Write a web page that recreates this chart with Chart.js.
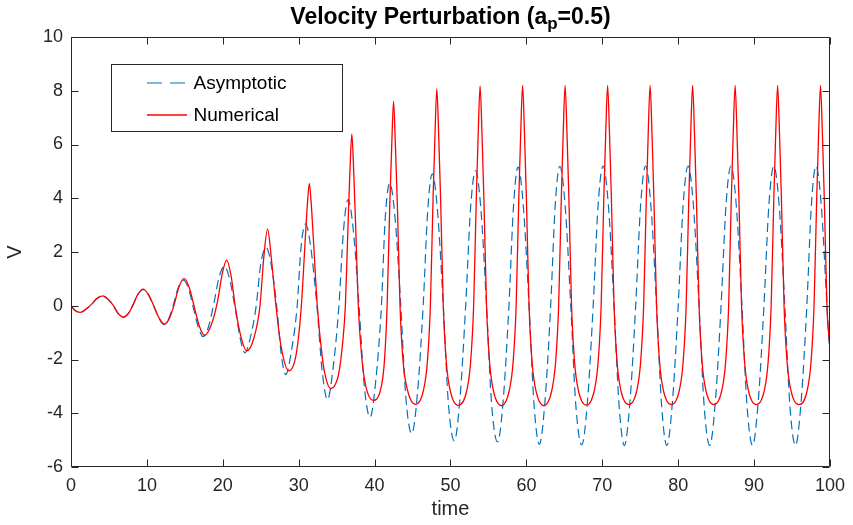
<!DOCTYPE html>
<html><head><meta charset="utf-8">
<script src="https://cdn.jsdelivr.net/npm/chart.js@4.4.1/dist/chart.umd.min.js"></script>
<style>html,body{margin:0;padding:0;background:#fff;}#wrap{width:853px;height:525px;}</style>
</head><body><div id="wrap"><canvas id="c" width="853" height="525"></canvas></div>
<script>
const titleMain = 'Velocity Perturbation (a';
const titleSub = 'p';
const titleTail = '=0.5)';
const xLabel = 'time';
const yLabel = 'V';
const seriesNames = ['Asymptotic', 'Numerical'];
const xTicks = [0, 10, 20, 30, 40, 50, 60, 70, 80, 90, 100];
const yTicks = [-6, -4, -2, 0, 2, 4, 6, 8, 10];

const numTime = [
0, 0.5, 1.2, 2.0, 2.7, 3.4, 4.2, 4.9, 5.6, 6.2, 6.9, 7.6, 8.2, 8.8, 9.5, 10.2, 10.9, 11.6, 12.3, 13.0, 13.6, 14.2, 14.9, 15.6, 16.2, 16.9, 17.6,
18.5, 19.3, 19.9, 20.5, 21.1, 21.6, 22.3, 23.15,
24.1, 24.9, 25.4, 25.9, 26.4, 27.0, 27.7, 28.7,
29.7, 30.35, 30.85, 31.15, 31.4, 31.65, 31.95, 32.45, 33.1, 33.5, 34.2,
35.25, 35.75, 36.15, 36.5, 36.75, 37.0, 37.25, 37.5, 37.85, 38.3, 38.85, 39.8,
40.85, 41.3, 41.65, 42.0, 42.25, 42.5, 42.75, 43.0, 43.35, 43.75, 44.3, 45.4,
46.45, 46.95, 47.35, 47.7, 47.95, 48.2, 48.45, 48.7, 49.05, 49.45, 49.95, 51.0,
52.15, 52.65, 53.05, 53.4, 53.65, 53.9, 54.15, 54.4, 54.75, 55.15, 55.65, 56.7,
57.75, 58.25, 58.65, 59.0, 59.25, 59.5, 59.75, 60.0, 60.35, 60.75, 61.25, 62.3,
63.35, 63.85, 64.25, 64.6, 64.85, 65.1, 65.35, 65.6, 65.95, 66.35, 66.85, 67.9,
68.95, 69.45, 69.85, 70.2, 70.45, 70.7, 70.95, 71.2, 71.55, 71.95, 72.45, 73.5,
74.55, 75.05, 75.45, 75.8, 76.05, 76.3, 76.55, 76.8, 77.15, 77.55, 78.05, 79.1,
80.15, 80.65, 81.05, 81.4, 81.65, 81.9, 82.15, 82.4, 82.75, 83.15, 83.65, 84.7,
85.75, 86.25, 86.65, 87.0, 87.25, 87.5, 87.75, 88.0, 88.35, 88.75, 89.25, 90.3,
91.35, 91.85, 92.25, 92.6, 92.85, 93.1, 93.35, 93.6, 93.95, 94.35, 94.85, 95.9,
97.0, 97.5, 97.9, 98.25, 98.5, 98.75, 99.0, 99.25, 99.6, 100
];
const numV = [
0, -0.17, -0.25, -0.12, 0.05, 0.27, 0.37, 0.24, 0.0, -0.28, -0.42, -0.27, 0.05, 0.42, 0.62, 0.42, 0.0, -0.45, -0.68, -0.45, 0.05, 0.68, 1.01, 0.66, 0.0, -0.75, -1.1,
-0.7, 0.15, 1.15, 1.7, 1.1, 0.05, -1.05, -1.68,
-1.2, 0.0, 1.8, 2.85, 1.75, 0.0, -1.55, -2.42,
-1.75, 0.0, 2.4, 3.8, 4.55, 3.8, 2.4, 0.0, -1.9, -2.6, -3.08,
-2.55, -1.5, 0.0, 3.0, 5.0, 6.39, 5.0, 3.0, 0.0, -1.9, -3.0, -3.52,
-3.05, -2.05, 0.0, 3.75, 5.9, 7.61, 5.9, 3.75, 0.0, -2.05, -3.1, -3.67,
-3.13, -2.1, 0.0, 3.95, 6.3, 8.08, 6.3, 3.95, 0.0, -2.1, -3.14, -3.71,
-3.15, -2.1, 0.0, 4.0, 6.4, 8.18, 6.4, 4.0, 0.0, -2.1, -3.15, -3.72,
-3.15, -2.1, 0.0, 4.0, 6.4, 8.2, 6.4, 4.0, 0.0, -2.1, -3.15, -3.72,
-3.15, -2.1, 0.0, 4.0, 6.4, 8.2, 6.4, 4.0, 0.0, -2.1, -3.15, -3.7,
-3.15, -2.1, 0.0, 4.0, 6.4, 8.2, 6.4, 4.0, 0.0, -2.1, -3.15, -3.68,
-3.15, -2.1, 0.0, 4.0, 6.4, 8.2, 6.4, 4.0, 0.0, -2.1, -3.15, -3.68,
-3.15, -2.1, 0.0, 4.0, 6.4, 8.2, 6.4, 4.0, 0.0, -2.1, -3.15, -3.68,
-3.15, -2.1, 0.0, 4.0, 6.4, 8.2, 6.4, 4.0, 0.0, -2.1, -3.15, -3.68,
-3.15, -2.1, 0.0, 4.0, 6.4, 8.2, 6.4, 4.0, 0.0, -2.1, -3.15, -3.68,
-3.15, -2.1, 0.0, 4.0, 6.4, 8.2, 6.4, 4.0, 0.0, -1.55
];

const asyTime = [
0, 0.5, 1.2, 2.0, 2.7, 3.4, 4.2, 4.9, 5.6, 6.2, 6.9, 7.6, 8.2, 8.8, 9.5, 10.2, 10.9, 11.6, 12.2, 12.9, 13.5, 14.1, 14.8, 15.5, 16.1, 16.8, 17.4,
18.1, 18.8, 19.5, 20.2, 20.9, 21.6, 22.3, 22.9, 23.6, 24.4, 25.0, 25.7, 26.4, 27.1, 27.7, 28.3,
29.0, 29.8, 30.3, 30.9, 31.6, 32.4, 33.1, 33.8, 34.5, 35.3, 35.9, 36.5, 37.2, 37.95, 38.6, 39.4,
40.15, 40.9, 41.4, 42.0, 42.7, 43.45, 44.1, 44.9, 45.65, 46.4, 47.0, 47.6, 48.3, 49.05, 49.7, 50.5,
51.25, 52.0, 52.65, 53.3, 54.0, 54.75, 55.4, 56.2, 56.95, 57.7, 58.3, 58.9, 59.6, 60.35, 61.0, 61.7,
62.45, 63.2, 63.8, 64.4, 65.1, 65.85, 66.5, 67.3, 68.05, 68.8, 69.45, 70.1, 70.8, 71.55, 72.2, 72.9,
73.65, 74.4, 75.05, 75.7, 76.4, 77.15, 77.8, 78.5, 79.25, 80.0, 80.65, 81.3, 82.0, 82.75, 83.4, 84.15,
84.9, 85.65, 86.3, 86.95, 87.65, 88.4, 89.05, 89.8, 90.55, 91.3, 91.95, 92.6, 93.3, 94.05, 94.7, 95.45,
96.2, 96.95, 97.55, 98.15, 98.85, 99.6, 100
];
const asyV = [
0, -0.17, -0.26, -0.12, 0.05, 0.27, 0.36, 0.23, -0.01, -0.29, -0.43, -0.27, 0.05, 0.42, 0.6, 0.4, -0.02, -0.47, -0.7, -0.47, 0.05, 0.65, 0.95, 0.62, -0.05, -0.82, -1.15,
-0.8, 0.05, 1.05, 1.47, 1.0, -0.05, -1.22, -1.75, -1.22, 0.0, 1.55, 2.17, 1.5, 0.0, -1.8, -2.56,
-1.75, 0.0, 2.15, 3.05, 2.15, 0.0, -2.45, -3.5, -2.4, 0.0, 2.8, 3.95, 2.8, 0.0, -2.85, -4.15,
-2.8, 0.0, 3.25, 4.56, 3.25, 0.0, -3.35, -4.76, -3.25, 0.0, 3.55, 4.91, 3.5, 0.0, -3.55, -5.03,
-3.45, 0.0, 3.65, 5.03, 3.62, 0.0, -3.6, -5.07, -3.5, 0.0, 3.7, 5.16, 3.7, 0.0, -3.65, -5.16,
-3.55, 0.0, 3.75, 5.19, 3.75, 0.0, -3.65, -5.18, -3.55, 0.0, 3.75, 5.2, 3.75, 0.0, -3.65, -5.2,
-3.55, 0.0, 3.75, 5.2, 3.75, 0.0, -3.65, -5.2, -3.55, 0.0, 3.75, 5.2, 3.75, 0.0, -3.65, -5.2,
-3.55, 0.0, 3.75, 5.2, 3.75, 0.0, -3.65, -5.2, -3.55, 0.0, 3.75, 5.2, 3.75, 0.0, -3.65, -5.2,
-3.55, 0.0, 3.75, 5.2, 3.75, 0.0, -1.95
];

const FONT = '"Liberation Sans", Arial, Helvetica, sans-serif';
const AXIS_COLOR = '#262626';
const BLUE = '#0072BD';
const RED = '#FF0000';

const toPoints = (xs, ys) => xs.map((x, i) => ({x: x, y: ys[i]}));

const framePlugin = {
  id: 'frame',
  afterDraw(chart) {
    const ctx = chart.ctx, a = chart.chartArea;
    const xs = chart.scales.x, ys = chart.scales.y;
    const L = Math.round(a.left) + 0.5, R = Math.round(a.right) - 0.5;
    const T = Math.round(a.top) + 0.5, B = Math.round(a.bottom) - 0.5;
    ctx.save();
    ctx.strokeStyle = AXIS_COLOR;
    ctx.lineWidth = 1;
    ctx.beginPath();
    ctx.rect(L, T, R - L, B - T);
    const tl = 7;
    xTicks.forEach(v => {
      const px = Math.round(xs.getPixelForValue(v)) + 0.5;
      ctx.moveTo(px, B); ctx.lineTo(px, B - tl);
      ctx.moveTo(px, T); ctx.lineTo(px, T + tl);
    });
    yTicks.forEach(v => {
      const py = Math.round(ys.getPixelForValue(v)) + 0.5;
      ctx.moveTo(L, py); ctx.lineTo(L + tl, py);
      ctx.moveTo(R, py); ctx.lineTo(R - tl, py);
    });
    ctx.stroke();
    ctx.restore();
  }
};

const titlePlugin = {
  id: 'subTitle',
  afterDraw(chart) {
    const ctx = chart.ctx, a = chart.chartArea;
    ctx.save();
    ctx.fillStyle = '#000';
    ctx.textBaseline = 'alphabetic';
    ctx.textAlign = 'left';
    const big = 'bold 23px ' + FONT, small = 'bold 17px ' + FONT;
    ctx.font = big;
    const w1 = ctx.measureText(titleMain).width;
    const w3 = ctx.measureText(titleTail).width;
    ctx.font = small;
    const w2 = ctx.measureText(titleSub).width;
    const total = w1 + w2 + w3;
    let x = (a.left + a.right) / 2 - total / 2;
    const base = 24;
    ctx.font = big; ctx.fillText(titleMain, x, base); x += w1;
    ctx.font = small; ctx.fillText(titleSub, x, base + 5); x += w2;
    ctx.font = big; ctx.fillText(titleTail, x, base);
    ctx.restore();
  }
};

const legendPlugin = {
  id: 'boxLegend',
  afterDraw(chart) {
    const ctx = chart.ctx, a = chart.chartArea;
    const bx = Math.round(a.left) + 40.5, by = 64.5, bw = 231, bh = 67;
    ctx.save();
    ctx.fillStyle = '#fff';
    ctx.fillRect(bx, by, bw, bh);
    ctx.strokeStyle = AXIS_COLOR;
    ctx.lineWidth = 1;
    ctx.strokeRect(bx, by, bw, bh);
    const rows = [83, 115];
    chart.data.datasets.forEach((ds, i) => {
      const y = rows[i];
      ctx.beginPath();
      ctx.strokeStyle = ds.borderColor;
      ctx.lineWidth = ds.borderWidth;
      ctx.setLineDash(ds.borderDash && ds.borderDash.length ? [15, 8] : []);
      ctx.moveTo(bx + 35.5, y); ctx.lineTo(bx + 75.5, y);
      ctx.stroke();
      ctx.setLineDash([]);
      ctx.fillStyle = '#000';
      ctx.font = '19px ' + FONT;
      ctx.textBaseline = 'middle';
      ctx.textAlign = 'left';
      ctx.fillText(ds.label, bx + 82, y + 1);
    });
    ctx.restore();
  }
};

new Chart(document.getElementById('c'), {
  type: 'line',
  data: {
    datasets: [
      { label: seriesNames[0], data: toPoints(asyTime, asyV), borderColor: BLUE, borderWidth: 1.2,
        borderDash: [9, 5], pointRadius: 0, fill: false, cubicInterpolationMode: 'monotone', order: 1 },
      { label: seriesNames[1], data: toPoints(numTime, numV), borderColor: RED, borderWidth: 1.3,
        pointRadius: 0, fill: false, cubicInterpolationMode: 'monotone', order: 0 }
    ]
  },
  options: {
    responsive: false,
    animation: false,
    devicePixelRatio: 1,
    layout: { padding: { top: 37, right: 22, left: 0, bottom: 0 } },
    plugins: { legend: { display: false }, tooltip: { enabled: false }, title: { display: false } },
    scales: {
      x: {
        type: 'linear', min: 0, max: 100,
        afterBuildTicks: s => { s.ticks = xTicks.map(v => ({ value: v })); },
        afterFit: s => { s.height = 58; },
        grid: { display: false, drawTicks: false },
        border: { display: false },
        ticks: { color: AXIS_COLOR, font: { family: FONT, size: 18 }, padding: 8, maxRotation: 0, autoSkip: false },
        title: { display: true, text: xLabel, color: AXIS_COLOR, font: { family: FONT, size: 20 }, padding: { top: 0, bottom: 4 } }
      },
      y: {
        type: 'linear', min: -6, max: 10,
        afterBuildTicks: s => { s.ticks = yTicks.map(v => ({ value: v })); },
        afterFit: s => { s.width = 71; },
        grid: { display: false, drawTicks: false },
        border: { display: false },
        ticks: { color: AXIS_COLOR, font: { family: FONT, size: 18 }, padding: 8, autoSkip: false },
        title: { display: true, text: yLabel, color: AXIS_COLOR, font: { family: FONT, size: 20 }, padding: { top: 3, bottom: 0 } }
      }
    }
  },
  plugins: [framePlugin, titlePlugin, legendPlugin]
});
</script></body></html>
